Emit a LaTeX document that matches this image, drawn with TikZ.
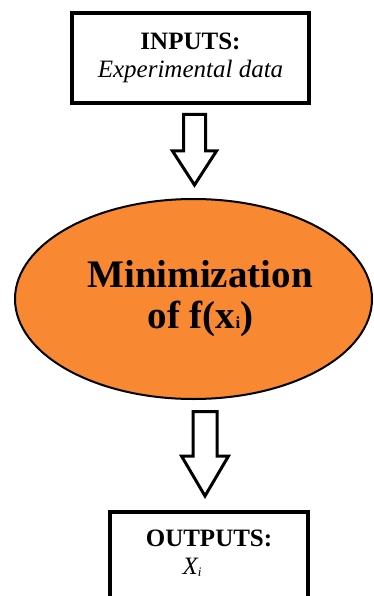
\documentclass[tikz,border=0pt]{standalone}
\usepackage{fontspec}
\setmainfont{Liberation Serif}
\usetikzlibrary{shapes.geometric}
\definecolor{minorange}{RGB}{248,136,50}
\begin{document}
\begin{tikzpicture}[x=1pt, y=-1pt,
  iobox/.style={draw, line width=4pt, rectangle, align=center, font=\fontsize{25}{28}\selectfont},
  blockarrow/.style={draw, line width=3pt, fill=white, line join=miter}]
\useasboundingbox (0,0) rectangle (374,596);
\node[iobox, minimum width=237pt, minimum height=90pt] (inbox) at (190.5,58){\textbf{INPUTS:}\\\textit{Experimental data}};
\node[ellipse, draw, line width=2pt, fill=minorange, minimum width=357pt, minimum height=200pt, align=center, font=\bfseries\fontsize{39}{41}\selectfont] (minf) at (193.5,299){\hspace*{13pt}Minimization\\\hspace*{14pt}of f(x{\fontsize{17}{17}\selectfont i})};
\node[iobox, minimum width=198pt, minimum height=92pt, text depth=12pt] (outbox) at (209,558){\textbf{OUTPUTS:}\\\hspace*{-34pt}\textit{X\raisebox{-2pt}{\fontsize{13}{13}\selectfont i}}};
\coordinate (arr1) at (194.5,114.5);
\coordinate (arr2) at (205,411.5);
\draw[blockarrow] (arr1) ++(-11,0) -- ++(22,0) -- ++(0,36.5) -- ++(11,0) -- ++(-22,34) -- ++(-22,-34) -- ++(11,0) -- cycle;
\draw[blockarrow] (arr2) ++(-12,0) -- ++(24,0) -- ++(0,44.5) -- ++(11.5,0) -- ++(-23.5,40) -- ++(-23.5,-40) -- ++(11.5,0) -- cycle;
\end{tikzpicture}
\end{document}
